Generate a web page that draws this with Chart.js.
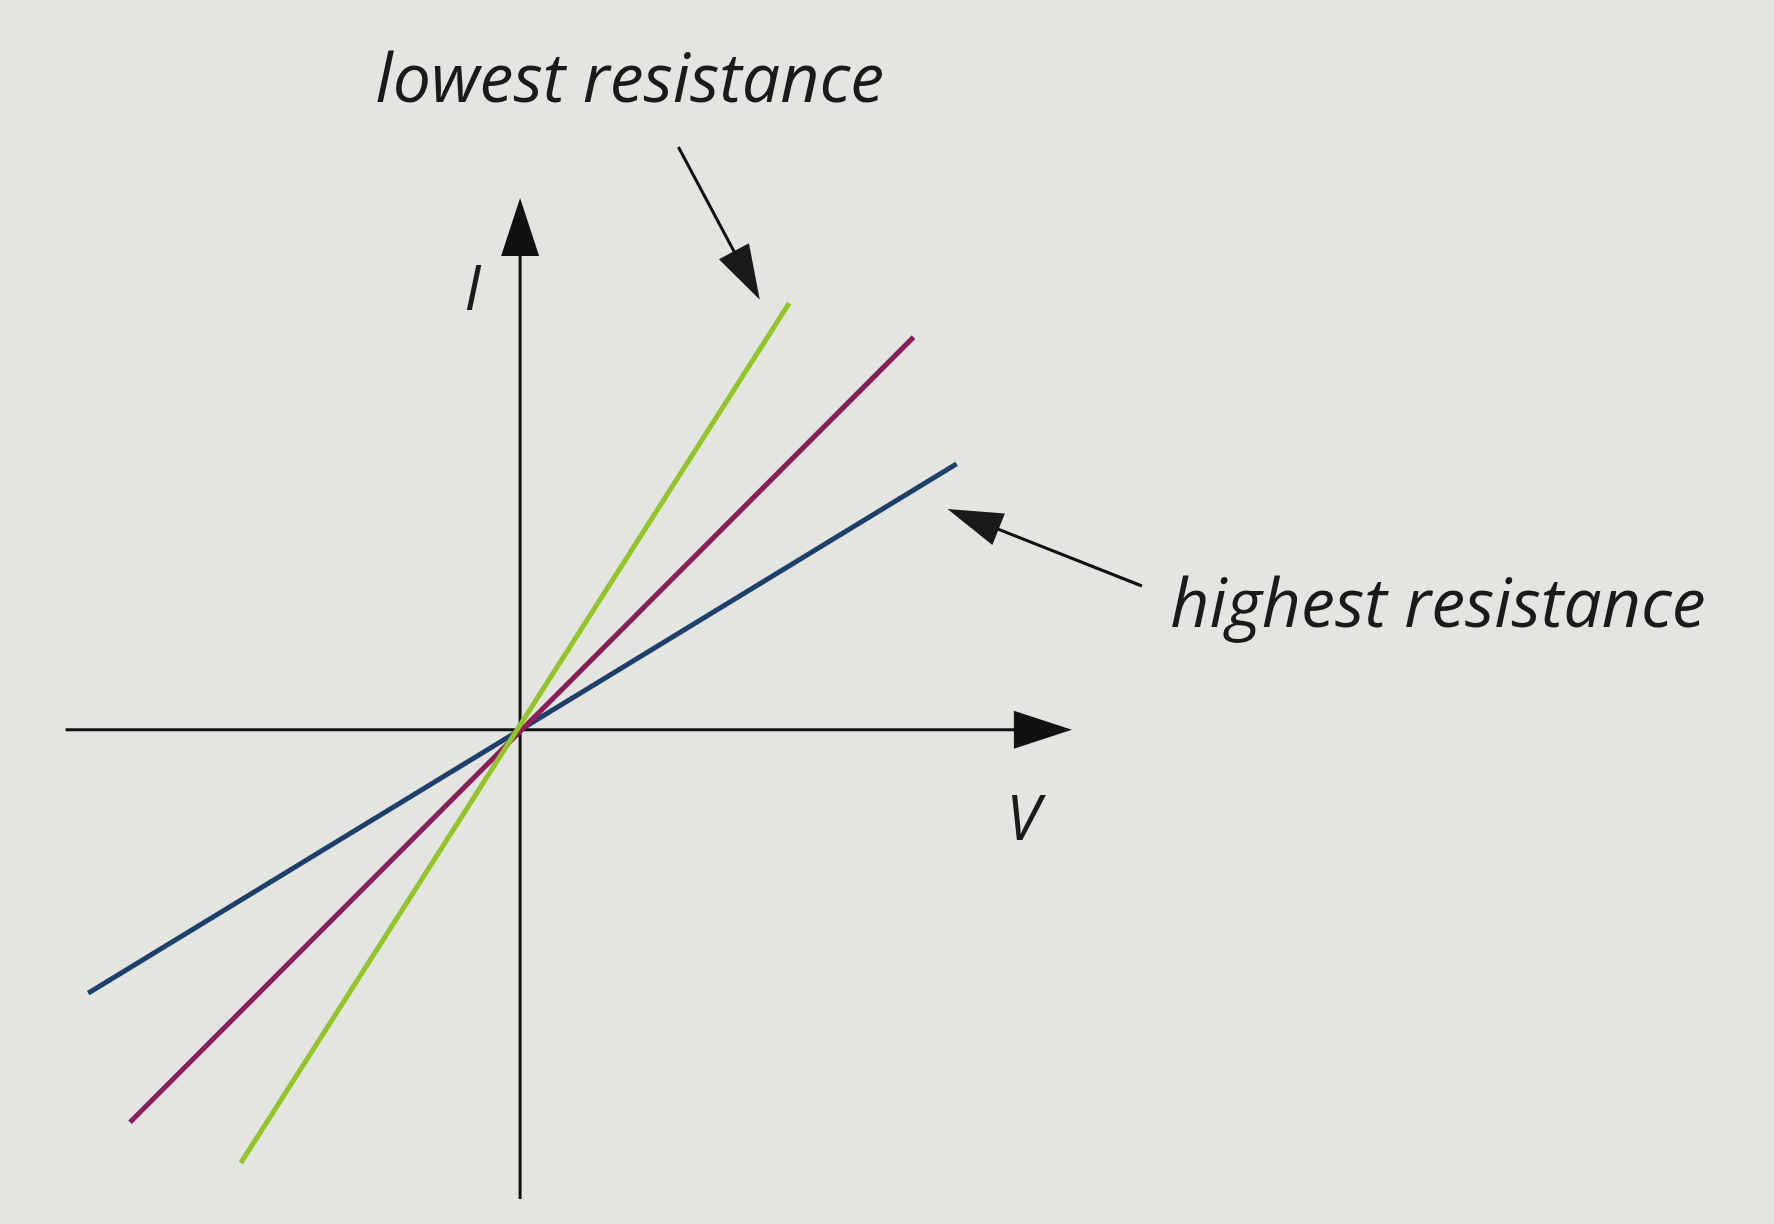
<!DOCTYPE html>
<html><head><meta charset="utf-8">
<script src="https://cdn.jsdelivr.net/npm/chart.js@4/dist/chart.umd.min.js"></script>
<style>html,body{margin:0;padding:0;background:#e3e5e1;}#w{position:absolute;left:0;top:0;width:1774px;height:1224px;}</style>
</head><body><div id="w"><canvas id="c"></canvas></div>
<script>
const seriesNames = ["lowest resistance", "middle", "highest resistance"];
const lowestV = [-2.47, 2.38];   const lowestI = [-3.83, 3.77];
const middleV = [-3.45, 3.48];   const middleI = [-3.47, 3.47];
const highestV = [-3.82, 3.86];  const highestI = [-2.33, 2.35];
const colors = ["#93c42a", "#8a1d5a", "#1f3f6c"];
const axisLabels = ["V", "I"];
const annotations = [
  {text: "lowest resistance", tx: 0.97, ty: 5.72, from: [1.40, 5.15], to: [2.12, 3.80]},
  {text: "highest resistance", tx: 5.75, ty: 1.08, from: [5.50, 1.27], to: [3.78, 1.95], left: true}
];
function pts(v, i){ return v.map((x, k) => ({x, y: i[k]})); }
function arrowHead(ctx, x1, y1, x2, y2, len, wid){
  const a = Math.atan2(y2-y1, x2-x1);
  ctx.beginPath();
  ctx.moveTo(x2, y2);
  ctx.lineTo(x2 - len*Math.cos(a) + wid*Math.sin(a), y2 - len*Math.sin(a) - wid*Math.cos(a));
  ctx.lineTo(x2 - len*Math.cos(a) - wid*Math.sin(a), y2 - len*Math.sin(a) + wid*Math.cos(a));
  ctx.closePath(); ctx.fill();
}
const deco = {
  id: 'deco',
  beforeDatasetsDraw(chart){
    const ctx = chart.ctx, xs = chart.scales.x, ys = chart.scales.y;
    const X = v => xs.getPixelForValue(v), Y = v => ys.getPixelForValue(v);
    ctx.save(); ctx.strokeStyle = '#111'; ctx.fillStyle = '#111'; ctx.lineWidth = 3;
    ctx.beginPath(); ctx.moveTo(X(-4.02), Y(0)); ctx.lineTo(X(4.6), Y(0)); ctx.stroke();
    arrowHead(ctx, X(0), Y(0), X(4.88), Y(0), 58, 19);
    ctx.beginPath(); ctx.moveTo(X(0), Y(-4.15)); ctx.lineTo(X(0), Y(4.4)); ctx.stroke();
    arrowHead(ctx, X(0), Y(0), X(0), Y(4.70), 58, 19);
    ctx.font = 'italic 400 62px "Open Sans"'; ctx.textBaseline = 'middle'; ctx.textAlign = 'center';
    ctx.fillStyle = '#1a1a1a';
    ctx.fillText(axisLabels[1], X(-0.42), Y(3.87));
    ctx.fillText(axisLabels[0], X(4.45), Y(-0.82));
    ctx.font = 'italic 400 68px "Open Sans"';
    annotations.forEach(a => {
      ctx.textAlign = a.left ? 'left' : 'center';
      ctx.fillText(a.text, X(a.tx), Y(a.ty));
      ctx.lineWidth = 3;
      ctx.beginPath(); ctx.moveTo(X(a.from[0]), Y(a.from[1]));
      const fx = X(a.from[0]), fy = Y(a.from[1]), tx = X(a.to[0]), ty = Y(a.to[1]);
      const d = Math.hypot(tx-fx, ty-fy);
      ctx.lineTo(tx - (tx-fx)/d*40, ty - (ty-fy)/d*40); ctx.stroke();
      arrowHead(ctx, fx, fy, tx, ty, 55, 17);
    });
    ctx.restore();
  }
};
new Chart(document.getElementById('c'), {
  type: 'scatter',
  data: { datasets: [
    {label: seriesNames[0], data: pts(lowestV, lowestI), borderColor: colors[0]},
    {label: seriesNames[1], data: pts(middleV, middleI), borderColor: colors[1]},
    {label: seriesNames[2], data: pts(highestV, highestI), borderColor: colors[2]}
  ].map(d => Object.assign(d, {showLine: true, borderWidth: 5, pointRadius: 0, borderCapStyle: 'butt'})) },
  options: {
    responsive: true, maintainAspectRatio: false, animation: false,
    layout: {padding: 0},
    plugins: {legend: {display: false}, tooltip: {enabled: false}},
    scales: {
      x: {type: 'linear', min: -4.60, max: 11.09, display: false},
      y: {type: 'linear', min: -4.37, max: 6.45, display: false}
    }
  },
  plugins: [deco]
});
</script></body></html>
